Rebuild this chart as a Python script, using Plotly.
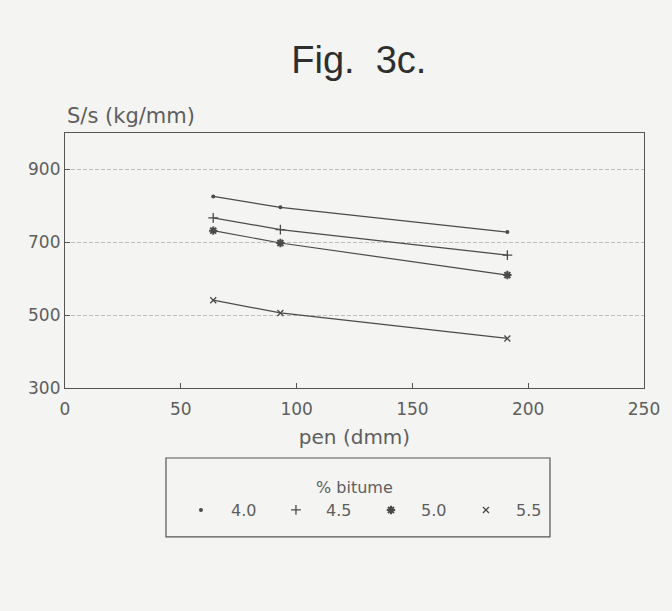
import plotly.graph_objects as go

pen = [64, 93, 191]
s_40 = [826, 796, 728]
s_45 = [767, 735, 665]
s_50 = [732, 698, 610]
s_55 = [541, 506, 436]
series_names = ["4.0", "4.5", "5.0", "5.5"]
x_ticks = [0, 50, 100, 150, 200, 250]
y_ticks = [300, 500, 700, 900]

FONT = "DejaVu Sans"
INK = "#4a4a4a"
TXT = "#5e5e5e"
BG = "#f4f4f2"

symbols = [
    dict(symbol="circle", size=4, line=dict(width=0)),
    dict(symbol="cross-thin-open", size=7, line=dict(width=1.3, color=INK)),
    dict(symbol="asterisk-open", size=7, line=dict(width=2, color=INK)),
    dict(symbol="x-thin-open", size=6, line=dict(width=1.3, color=INK)),
]

fig = go.Figure()
for name, vals, sym in zip(series_names, [s_40, s_45, s_50, s_55], symbols):
    fig.add_trace(go.Scatter(
        x=pen, y=vals, mode="lines+markers", showlegend=False,
        line=dict(color=INK, width=1.2),
        marker=dict(color=INK, **sym),
    ))
for name, sym in zip(series_names, symbols):
    fig.add_trace(go.Scatter(
        x=[None], y=[None], mode="markers", name=name,
        marker=dict(color=INK, **sym),
    ))

fig.update_layout(
    width=672, height=611,
    margin=dict(l=65, r=22, t=133, b=223),
    paper_bgcolor=BG, plot_bgcolor=BG,
    font=dict(family=FONT, color=TXT, size=16),
    showlegend=True,
    legend=dict(
        orientation="h", x=0.183, y=-0.412, xanchor="left", yanchor="top",
        borderwidth=0, bgcolor="rgba(0,0,0,0)",
        font=dict(size=16, color=TXT),
        entrywidth=30, entrywidthmode="pixels",
        itemwidth=50,
    ),
    title=dict(text="Fig.\u00a0 3c.", x=0.534, xanchor="center", xref="container",
               y=0.902, yanchor="middle", yref="container",
               font=dict(family="Liberation Sans", size=38, color="#2e2e2e")),
    shapes=[dict(type="rect", xref="paper", yref="paper",
                 x0=0.1744, x1=0.8376, y0=-0.584, y1=-0.2745,
                 line=dict(color="#555555", width=1.2))],
    annotations=[
        dict(text="S/s (kg/mm)", xref="paper", yref="paper",
             x=0.0, y=1.0, xanchor="left", yanchor="bottom", yshift=3, xshift=0,
             showarrow=False, font=dict(size=21, color=TXT)),
        dict(text="% bitume", xref="paper", yref="paper",
             x=(357 - 65) / 585, y=(388 - 487) / 255, xanchor="center", yanchor="middle",
             showarrow=False, font=dict(size=16, color=TXT)),
    ],
)
fig.update_xaxes(
    range=[0, 250], tickvals=x_ticks, ticks="inside", ticklen=5, tickcolor="#555555",
    showline=True, linecolor="#555555", linewidth=1.2, mirror=True,
    showgrid=False, zeroline=False, ticklabelstandoff=5,
    title=dict(text="pen (dmm)", font=dict(size=20, color=TXT), standoff=12),
    tickfont=dict(size=17, color=TXT),
)
fig.update_yaxes(
    range=[300, 1000], tickvals=y_ticks, ticks="inside", ticklen=5, tickcolor="#555555",
    showline=True, linecolor="#555555", linewidth=1.2, mirror=True,
    showgrid=True, gridcolor="#bdbdbd", griddash="4px,2px", gridwidth=1,
    zeroline=False, tickfont=dict(size=17, color=TXT),
)
fig.write_html("out.html", config={"displayModeBar": False},
               post_script="document.body.style.margin='0';")
